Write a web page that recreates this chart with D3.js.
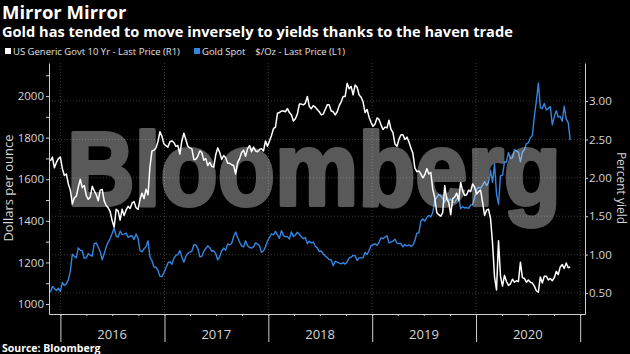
<!DOCTYPE html>
<html>
<head>
<meta charset="utf-8">
<script src="https://cdn.jsdelivr.net/npm/d3@7"></script>
<style>
  body { margin: 0; background: #000; }
  svg { display: block; }
</style>
</head>
<body>
<div id="chart"></div>
<script>
// weekly closes (Fridays), 27 Nov 2015 .. 27 Nov 2020
const startWeek = "2015-11-27", endWeek = "2020-11-27";

// Gold Spot $/Oz (L1)
const gold = [
  1057, 1084, 1075, 1065, 1076,
  1061, 1104, 1089, 1097, 1117, 1158, 1239, 1230, 1222, 1270, 1259, 1255, 1220,
  1222, 1243, 1234, 1231, 1290, 1294, 1273, 1252, 1213, 1242, 1275, 1298, 1315,
  1339, 1366, 1327, 1322, 1350, 1335, 1336, 1341, 1321, 1326, 1328, 1310, 1337, 1316,
  1257, 1251, 1266, 1276, 1304, 1225, 1208, 1178, 1177, 1161, 1133, 1132, 1151,
  1173, 1197, 1204, 1191, 1220, 1234, 1238, 1257, 1226, 1201, 1229, 1243, 1249,
  1254, 1285, 1284, 1268, 1228, 1228, 1253, 1267, 1280, 1271, 1254, 1256, 1242,
  1212, 1228, 1255, 1269, 1258, 1289, 1284, 1291, 1325, 1346, 1320, 1297, 1280,
  1275, 1304, 1280, 1272, 1269, 1275, 1294, 1288, 1280, 1248, 1256, 1275, 1303,
  1320, 1338, 1332, 1349, 1333, 1316, 1353, 1330, 1323, 1324, 1313, 1347, 1325,
  1332, 1345, 1336, 1323, 1314, 1320, 1291, 1302, 1294, 1298, 1278, 1270, 1252,
  1255, 1241, 1231, 1223, 1214, 1212, 1184, 1206, 1201, 1197, 1193, 1199, 1192,
  1203, 1222, 1226, 1234, 1232, 1209, 1222, 1222, 1222, 1248, 1238, 1257, 1281,
  1285, 1289, 1282, 1298, 1318, 1314, 1322, 1328, 1294, 1298, 1302, 1312, 1292,
  1291, 1290, 1275, 1286, 1279, 1285, 1277, 1283, 1305, 1341, 1341, 1399, 1409,
  1399, 1416, 1426, 1419, 1440, 1497, 1513, 1527, 1520, 1507, 1488, 1517, 1497,
  1505, 1489, 1490, 1505, 1514, 1459, 1468, 1462, 1464, 1460, 1476, 1478, 1511,
  1552, 1562, 1557, 1571, 1589, 1570, 1584, 1643, 1585, 1674, 1529, 1480, 1617,
  1620, 1683, 1683, 1729, 1700, 1703, 1743, 1735, 1730, 1684, 1730, 1743, 1771,
  1775, 1799, 1810, 1902, 1975, 2063, 1944, 1940, 1964, 1934, 1940, 1950, 1862,
  1900, 1930, 1899, 1902, 1879, 1951, 1889, 1872, 1788
];

// US Generic Govt 10 Yr (R1)
const yld = [
  2.22, 2.27, 2.13, 2.20, 2.25,
  2.27, 2.12, 2.03, 2.05, 1.92, 1.84, 1.66, 1.74, 1.76, 1.88, 1.98, 1.87, 1.90,
  1.77, 1.72, 1.75, 1.89, 1.83, 1.78, 1.70, 1.84, 1.85, 1.70, 1.64, 1.61, 1.56,
  1.44, 1.36, 1.59, 1.57, 1.45, 1.59, 1.51, 1.58, 1.63, 1.60, 1.67, 1.69, 1.61, 1.59,
  1.72, 1.80, 1.73, 1.85, 1.78, 2.15, 2.35, 2.36, 2.39, 2.47, 2.60, 2.54, 2.44,
  2.42, 2.40, 2.47, 2.48, 2.46, 2.41, 2.42, 2.31, 2.48, 2.58, 2.50, 2.41, 2.39,
  2.38, 2.24, 2.24, 2.28, 2.35, 2.33, 2.23, 2.25, 2.16, 2.20, 2.15, 2.14, 2.30,
  2.39, 2.33, 2.24, 2.29, 2.26, 2.19, 2.19, 2.17, 2.16, 2.05, 2.20, 2.25, 2.33,
  2.36, 2.28, 2.38, 2.42, 2.34, 2.40, 2.35, 2.34, 2.37, 2.38, 2.35, 2.48, 2.41,
  2.48, 2.55, 2.64, 2.66, 2.84, 2.85, 2.87, 2.87, 2.86, 2.90, 2.85, 2.82, 2.74,
  2.77, 2.83, 2.96, 2.96, 2.95, 2.97, 3.06, 2.93, 2.90, 2.94, 2.92, 2.89, 2.86,
  2.82, 2.83, 2.89, 2.95, 2.95, 2.87, 2.86, 2.82, 2.86, 2.94, 2.99, 3.06, 3.06,
  3.23, 3.16, 3.19, 3.08, 3.21, 3.18, 3.08, 3.05, 2.99, 2.85, 2.89, 2.79, 2.72,
  2.67, 2.70, 2.78, 2.76, 2.69, 2.63, 2.66, 2.65, 2.75, 2.63, 2.59, 2.44, 2.41,
  2.50, 2.56, 2.56, 2.50, 2.53, 2.47, 2.39, 2.32, 2.13, 2.08, 2.09, 2.05, 2.00,
  2.04, 2.12, 2.05, 2.07, 1.85, 1.74, 1.55, 1.52, 1.50, 1.55, 1.90, 1.72, 1.68,
  1.52, 1.73, 1.75, 1.80, 1.71, 1.94, 1.83, 1.77, 1.78, 1.84, 1.82, 1.92, 1.88,
  1.79, 1.82, 1.84, 1.68, 1.51, 1.58, 1.59, 1.47, 1.15, 0.71, 0.54, 1.18, 0.72,
  0.59, 0.73, 0.65, 0.60, 0.62, 0.68, 0.64, 0.66, 0.65, 0.90, 0.70, 0.69, 0.64,
  0.67, 0.64, 0.63, 0.59, 0.53, 0.51, 0.71, 0.63, 0.72, 0.72, 0.67, 0.69, 0.66,
  0.70, 0.78, 0.74, 0.84, 0.87, 0.82, 0.89, 0.83, 0.84
];

const goldTicks = [1000, 1200, 1400, 1600, 1800, 2000];
const yieldTicks = [0.5, 1.0, 1.5, 2.0, 2.5, 3.0];
const yearLabels = ["2016", "2017", "2018", "2019", "2020"];

const parse = d3.timeParse("%Y-%m-%d");
const dates = d3.timeFriday.range(parse(startWeek), d3.timeDay.offset(parse(endWeek), 1));

const width = 630, height = 354;
const plot = {left: 49, right: 585, top: 63, bottom: 314};
const font = "'Open Sans', sans-serif";
const blue = "#3585e0";

const svg = d3.select("#chart").append("svg")
    .attr("width", width)
    .attr("height", height)
    .style("background", "#000");

const x = d3.scaleTime()
    .domain([parse("2015-11-22"), parse("2021-01-18")])
    .range([plot.left, plot.right]);
const yGold = d3.scaleLinear().domain([952, 2159]).range([plot.bottom, plot.top]);
const yYield = d3.scaleLinear().domain([0.227, 3.495]).range([plot.bottom, plot.top]);

// grid: horizontal on right axis ticks, vertical at year boundaries
const yearStarts = d3.timeYear.range(parse("2016-01-01"), parse("2021-01-02"));
svg.append("g").selectAll("line")
    .data(yieldTicks)
    .join("line")
    .attr("x1", plot.left).attr("x2", plot.right)
    .attr("y1", d => yYield(d)).attr("y2", d => yYield(d))
    .attr("stroke", "#3a3a3a").attr("stroke-dasharray", "1,2");
svg.append("g").selectAll("line")
    .data(yearStarts)
    .join("line")
    .attr("x1", d => x(d)).attr("x2", d => x(d))
    .attr("y1", plot.top).attr("y2", plot.bottom)
    .attr("stroke", "#3a3a3a").attr("stroke-dasharray", "1,2");

// lines
const goldLine = d3.line().x((d, i) => x(dates[i])).y(d => yGold(d));
const yldLine = d3.line().x((d, i) => x(dates[i])).y(d => yYield(d));

svg.append("path").datum(gold)
    .attr("d", goldLine)
    .attr("fill", "none").attr("stroke", blue).attr("stroke-width", 1.4)
    .attr("stroke-linejoin", "round");
svg.append("path").datum(yld)
    .attr("d", yldLine)
    .attr("fill", "none").attr("stroke", "#fff").attr("stroke-width", 1.5)
    .attr("stroke-linejoin", "round");

// watermark sits on top of the lines, semi-transparent; stroke thickens the glyphs
svg.append("g")
    .attr("opacity", 0.35)
  .append("text")
    .attr("x", 67).attr("y", 205)
    .attr("textLength", 494).attr("lengthAdjust", "spacingAndGlyphs")
    .style("font-family", "'Liberation Sans', Arial, sans-serif")
    .style("font-weight", "bold")
    .style("font-size", "104px")
    .attr("fill", "#fff")
    .attr("stroke", "#fff").attr("stroke-width", 4).attr("stroke-linejoin", "round")
    .text("Bloomberg");

// axes
function styleAxis(g) {
    g.selectAll("path, line").attr("stroke", "#cfcfcf");
    g.selectAll("text").attr("fill", "#d6d6d6")
        .style("font-family", font).style("font-size", "11.5px");
}

svg.append("g")
    .attr("transform", `translate(${plot.left},0)`)
    .call(d3.axisLeft(yGold)
        .tickValues(d3.range(1000, 2101, 100))
        .tickFormat(d => goldTicks.includes(d) ? d : "")
        .tickSize(3).tickSizeOuter(0).tickPadding(2))
    .call(styleAxis);

svg.append("g")
    .attr("transform", `translate(${plot.right},0)`)
    .call(d3.axisRight(yYield)
        .tickValues(yieldTicks)
        .tickFormat(d3.format(".2f"))
        .tickSize(3).tickSizeOuter(0).tickPadding(1))
    .call(styleAxis);

// bottom: quarter ticks, long year ticks, year labels centred between
svg.append("g")
    .attr("transform", `translate(0,${plot.bottom})`)
    .call(d3.axisBottom(x)
        .tickValues(d3.timeMonth.every(3).range(parse("2015-12-01"), parse("2021-01-02")))
        .tickFormat("")
        .tickSize(2).tickSizeOuter(0))
    .call(styleAxis);
svg.append("g")
    .attr("transform", `translate(0,${plot.bottom})`)
    .call(d3.axisBottom(x).tickValues(yearStarts).tickFormat("").tickSize(28).tickSizeOuter(0))
    .call(styleAxis)
    .select(".domain").remove();

svg.append("g").selectAll("text")
    .data(yearLabels)
    .join("text")
    .attr("x", d => x(d3.timeDay.offset(parse(d + "-01-01"), 182)))
    .attr("y", 339)
    .attr("text-anchor", "middle")
    .attr("fill", "#d6d6d6")
    .style("font-family", font).style("font-size", "13px")
    .text(d => d);

// axis titles
svg.append("text")
    .attr("transform", "translate(13,188) rotate(-90)")
    .attr("text-anchor", "middle")
    .attr("fill", "#d6d6d6")
    .style("font-family", font).style("font-size", "13px")
    .text("Dollars per ounce");
svg.append("text")
    .attr("transform", "translate(617,188) rotate(90)")
    .attr("text-anchor", "middle")
    .attr("fill", "#d6d6d6")
    .style("font-family", font).style("font-size", "12px")
    .text("Percent yield");

// titles
svg.append("text")
    .attr("x", 2).attr("y", 19)
    .attr("fill", "#fff")
    .style("font-family", font).style("font-weight", "bold").style("font-size", "18.5px")
    .text("Mirror Mirror");
svg.append("text")
    .attr("x", 2).attr("y", 37)
    .attr("fill", "#fff")
    .style("font-family", font).style("font-weight", "bold").style("font-size", "14.6px")
    .text("Gold has tended to move inversely to yields thanks to the haven trade");

// legend
const legend = [
    {label: "US Generic Govt 10 Yr - Last Price (R1)", color: "#fff", x: 5},
    {label: "Gold Spot\u00a0\u00a0\u00a0 $/Oz - Last Price (L1)", color: blue, x: 194}
];
const lg = svg.append("g").selectAll("g").data(legend).join("g")
    .attr("transform", d => `translate(${d.x},48)`);
lg.append("rect").attr("width", 6).attr("height", 6).attr("fill", d => d.color);
lg.append("text")
    .attr("x", 8).attr("y", 6.5)
    .attr("fill", "#e0e0e0")
    .style("font-family", font).style("font-size", "9.5px")
    .text(d => d.label);

svg.append("text")
    .attr("x", 2).attr("y", 352)
    .attr("fill", "#fff")
    .style("font-family", font).style("font-weight", "bold").style("font-size", "10.5px")
    .text("Source: Bloomberg");
</script>
</body>
</html>
